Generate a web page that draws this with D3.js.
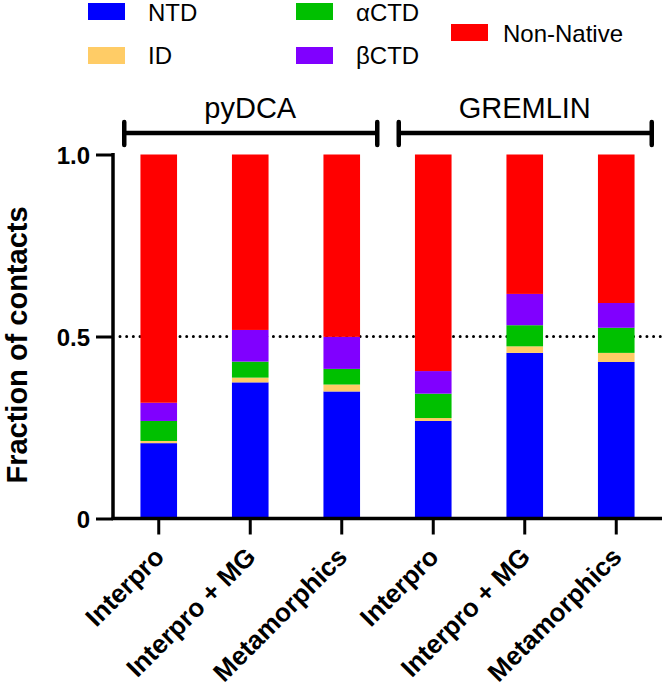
<!DOCTYPE html>
<html><head><meta charset="utf-8">
<script src="https://cdn.jsdelivr.net/npm/d3@7"></script>
<style>body{margin:0;background:#fff}svg{display:block;font-family:"Liberation Sans",Arial,Helvetica,sans-serif}</style>
</head><body>
<svg id="c" width="665" height="690"></svg>
<script>
const categories = ["Interpro", "Interpro + MG", "Metamorphics", "Interpro", "Interpro + MG", "Metamorphics"];
const groups = ["pyDCA", "GREMLIN"];
const seriesNames = ["NTD", "ID", "\u03b1CTD", "\u03b2CTD", "Non-Native"];
const ntd       = [0.207, 0.374, 0.349, 0.268, 0.455, 0.430];
const idv       = [0.006, 0.013, 0.019, 0.008, 0.018, 0.025];
const actd      = [0.055, 0.044, 0.043, 0.067, 0.058, 0.069];
const bctd      = [0.050, 0.087, 0.088, 0.062, 0.086, 0.068];
const nonNative = [0.682, 0.482, 0.501, 0.595, 0.383, 0.408];
const yTicks = [0, 0.5, 1.0];
const yTickLabels = ["0", "0.5", "1.0"];
const colors = ["#0000ff", "#ffcc66", "#00c000", "#8000ff", "#ff0000"];

const svg = d3.select("#c");
const x = d3.scaleBand().domain(d3.range(categories.length)).range([113, 662]).paddingInner(0.6).paddingOuter(0.3);
const y = d3.scaleLinear().domain([0, 1]).range([518.5, 154.5]);

const rows = categories.map((c, i) => ({i, NTD: ntd[i], ID: idv[i], a: actd[i], b: bctd[i], NN: nonNative[i]}));
const keys = ["NTD", "ID", "a", "b", "NN"];
const stacked = d3.stack().keys(keys)(rows);

// reference dotted line at 0.5
svg.append("line").attr("x1", 120).attr("x2", 662).attr("y1", y(0.5)).attr("y2", y(0.5))
  .attr("stroke", "#000").attr("stroke-width", 3).attr("stroke-linecap", "round").attr("stroke-dasharray", "0 6.67");

// bars
stacked.forEach((layer, k) => {
  svg.append("g").selectAll("rect").data(layer).join("rect")
    .attr("x", d => x(d.data.i)).attr("width", x.bandwidth())
    .attr("y", d => y(d[1])).attr("height", d => y(d[0]) - y(d[1]))
    .attr("fill", colors[k]);
});

// y axis
const yAxis = d3.axisLeft(y).tickValues(yTicks).tickFormat((d, i) => yTickLabels[i]).tickSize(17).tickPadding(6);
const gy = svg.append("g").attr("transform", "translate(113,0)").call(yAxis);
gy.select(".domain").attr("stroke-width", 3.5).attr("d", `M0,${y(1)-1.5}V${y(0)+1.5}`);
gy.selectAll(".tick line").attr("stroke-width", 3);
gy.selectAll(".tick text").attr("font-size", 24).attr("font-weight", "bold").attr("fill", "#000").attr("dy", "0.36em");

// x axis
const xAxis = d3.axisBottom(x).tickSize(16).tickFormat(i => categories[i]);
const gx = svg.append("g").attr("transform", `translate(0,${y(0)})`).call(xAxis);
gx.select(".domain").attr("stroke-width", 3.5).attr("d", "M111.5,0H662");
gx.selectAll(".tick line").attr("stroke-width", 3);
gx.selectAll(".tick text").attr("font-size", 26).attr("font-weight", "bold").attr("fill", "#000")
  .attr("text-anchor", "end").attr("dy", null).attr("y", null)
  .attr("transform", "translate(7,40) rotate(-45)");

// y label
svg.append("text").attr("transform", "translate(27,345) rotate(-90)").attr("text-anchor", "middle")
  .attr("font-size", 29).attr("font-weight", "bold").text("Fraction of contacts");

// group brackets
groups.forEach((g, gi) => {
  const idx = [gi * 3, gi * 3 + 1, gi * 3 + 2];
  const cx = (x(idx[0]) + x(idx[2]) + x.bandwidth()) / 2;
  const x1 = cx - 126, x2 = cx + 127, yb = 133;
  const gg = svg.append("g").attr("stroke", "#000").attr("stroke-width", 4.5);
  gg.append("line").attr("x1", x1).attr("x2", x2).attr("y1", yb).attr("y2", yb);
  gg.append("line").attr("x1", x1).attr("x2", x1).attr("y1", yb - 11).attr("y2", yb + 12).attr("stroke-linecap", "round");
  gg.append("line").attr("x1", x2).attr("x2", x2).attr("y1", yb - 11).attr("y2", yb + 12).attr("stroke-linecap", "round");
  svg.append("text").attr("x", cx).attr("y", 117.5).attr("text-anchor", "middle").attr("font-size", 29).text(g);
});

// legend
const legendPos = [
  {sx: 88, sy: 3, tx: 148, ty: 21},
  {sx: 88, sy: 47, tx: 148, ty: 64},
  {sx: 296, sy: 3, tx: 356, ty: 21},
  {sx: 296, sy: 47, tx: 356, ty: 64},
  {sx: 451, sy: 24, tx: 503, ty: 42}
];
seriesNames.forEach((s, k) => {
  const p = legendPos[k];
  svg.append("rect").attr("x", p.sx).attr("y", p.sy).attr("width", 37).attr("height", 17).attr("fill", colors[k]);
  svg.append("text").attr("x", p.tx).attr("y", p.ty).attr("font-size", 24).text(s);
});
</script>
</body></html>
